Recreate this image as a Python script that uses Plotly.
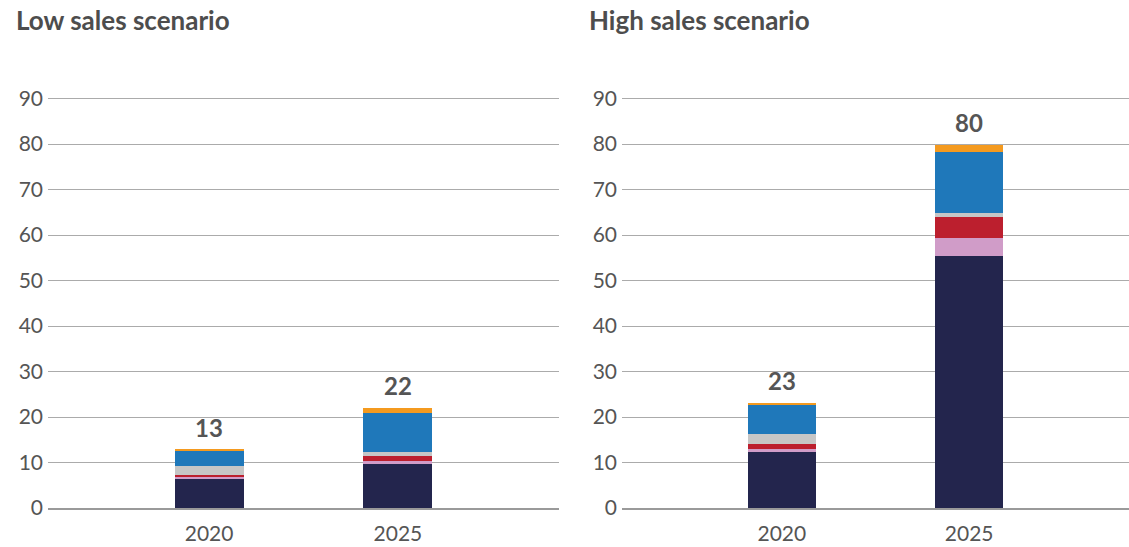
import plotly.graph_objects as go

years = ["2020", "2025"]
segment_names = ["Segment 1", "Segment 2", "Segment 3", "Segment 4", "Segment 5", "Segment 6"]
segment_colors = ["#23254D", "#D09CC8", "#BC1F2E", "#C6C6C6", "#1F78BA", "#F49A1F"]

# Low sales scenario (values per segment, bottom to top)
low_seg1 = [6.3, 9.7]
low_seg2 = [0.6, 0.6]
low_seg3 = [0.45, 1.1]
low_seg4 = [1.9, 0.95]
low_seg5 = [3.35, 8.55]
low_seg6 = [0.2, 1.1]

# High sales scenario
high_seg1 = [12.3, 55.4]
high_seg2 = [0.65, 3.95]
high_seg3 = [1.1, 4.65]
high_seg4 = [2.25, 0.8]
high_seg5 = [6.35, 13.35]
high_seg6 = [0.35, 1.7]

titles = ["Low sales scenario", "High sales scenario"]
y_ticks = [0, 10, 20, 30, 40, 50, 60, 70, 80, 90]

low = [low_seg1, low_seg2, low_seg3, low_seg4, low_seg5, low_seg6]
high = [high_seg1, high_seg2, high_seg3, high_seg4, high_seg5, high_seg6]

fig = go.Figure()
W, H = 1129, 547
font_family = "Lato, 'Open Sans', sans-serif"

for panel, (data, xa, ya) in enumerate([(low, "x", "y"), (high, "x2", "y2")]):
    for name, color, vals in zip(segment_names, segment_colors, data):
        fig.add_trace(go.Bar(
            x=years, y=vals, name=name, marker=dict(color=color, line=dict(width=0)),
            width=0.365, xaxis=xa, yaxis=ya, showlegend=False,
        ))
    totals = [sum(v[i] for v in data) for i in range(len(years))]
    for i, tot in enumerate(totals):
        fig.add_annotation(
            x=i, y=tot, xref=xa, yref=ya, text=f"<b>{round(tot)}</b>",
            showarrow=False, yanchor="bottom", yshift=6,
            font=dict(family=font_family, size=24, color="#555555"),
        )

axis_common = dict(
    showgrid=True, gridcolor="#ABABAB", gridwidth=1, zeroline=False,
    tickvals=y_ticks, range=[0, 91], ticks="", ticklen=0,
    tickfont=dict(family=font_family, size=21, color="#555555"),
    ticklabelstandoff=4,
    automargin=False, fixedrange=True,
)
x_common = dict(
    type="category", range=[-0.853, 1.853], showgrid=False, zeroline=False,
    showline=True, linecolor="#9A9A9A", linewidth=1.5, ticks="",
    tickfont=dict(family=font_family, size=21, color="#555555"),
    ticklabelstandoff=6,
    automargin=False, fixedrange=True,
)

fig.update_layout(
    width=W, height=H,
    margin=dict(l=0, r=0, t=94, b=39),
    plot_bgcolor="white", paper_bgcolor="white",
    barmode="stack",
    xaxis=dict(domain=[48 / W, 559 / W], anchor="y", **x_common),
    yaxis=dict(domain=[0, 1], anchor="x", **axis_common),
    xaxis2=dict(domain=[622 / W, 1.0], anchor="y2", **x_common),
    yaxis2=dict(domain=[0, 1], anchor="x2", **axis_common),
    font=dict(family=font_family),
)

for title, xpx in zip(titles, [14, 587]):
    fig.add_annotation(
        x=xpx / W, y=1, xref="paper", yref="paper", yshift=92,
        xanchor="left", yanchor="top", showarrow=False,
        text=f"<b>{title}</b>",
        font=dict(family=font_family, size=26, color="#4D4D4D"),
    )

fig.write_html(
    "out.html",
    config={"displayModeBar": False},
    post_script="document.body.style.margin='0';",
)
